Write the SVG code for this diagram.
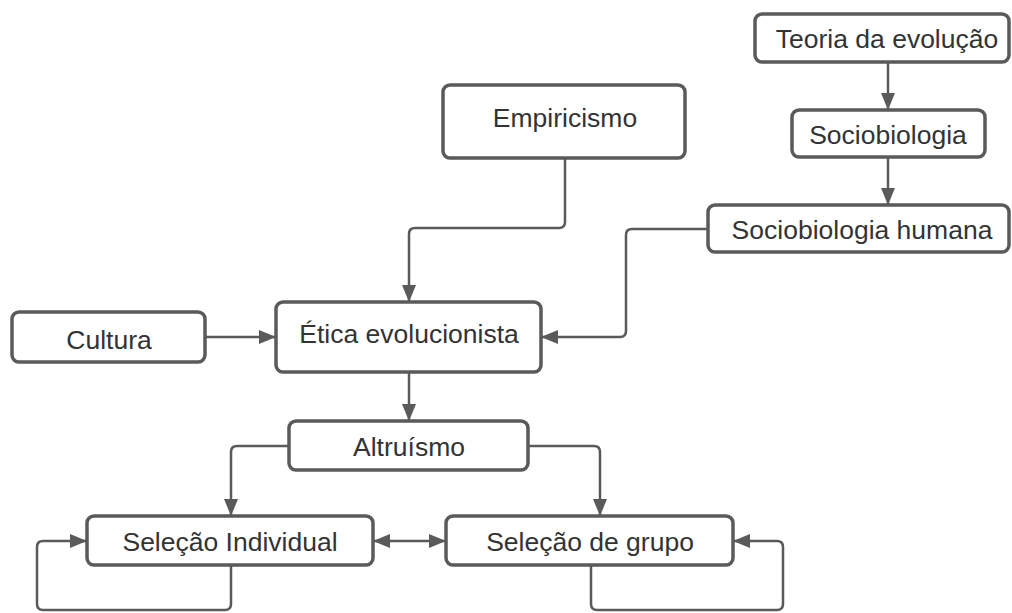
<svg xmlns="http://www.w3.org/2000/svg" width="1012" height="613" viewBox="0 0 1012 613">
<style>
.box{fill:#fff;stroke:#5a5a5a;stroke-width:3.5}
.lbl{font-family:"Liberation Sans",Arial,sans-serif;font-size:26.5px;fill:#333;text-anchor:middle;dominant-baseline:central}
.con{fill:none;stroke:#5a5a5a;stroke-width:2.5}
</style>
<defs>
<marker id="ah" markerUnits="userSpaceOnUse" markerWidth="20" markerHeight="16" refX="17" refY="7" orient="auto-start-reverse" viewBox="0 0 20 16">
<path d="M0,0 L17,7 L0,14 z" fill="#5a5a5a"/>
</marker>
</defs>
<rect width="1012" height="613" fill="#fff"/>
<g id="connectors">
<path class="con" d="M888,62 V110" marker-end="url(#ah)"/>
<path class="con" d="M888,157 V205" marker-end="url(#ah)"/>
<path class="con" d="M565,158 V222 q0,6 -6,6 H415 q-6,0 -6,6 V302" marker-end="url(#ah)"/>
<path class="con" d="M708,229 H632 q-6,0 -6,6 V331 q0,6 -6,6 H541" marker-end="url(#ah)"/>
<path class="con" d="M205,337 H276" marker-end="url(#ah)"/>
<path class="con" d="M409,372 V421" marker-end="url(#ah)"/>
<path class="con" d="M289,446 H237 q-6,0 -6,6 V516" marker-end="url(#ah)"/>
<path class="con" d="M528,446 H594 q6,0 6,6 V516" marker-end="url(#ah)"/>
<path class="con" d="M373,541 H446" marker-start="url(#ah)" marker-end="url(#ah)"/>
<path class="con" d="M231,565 V604 q0,6 -6,6 H43 q-6,0 -6,-6 V547 q0,-6 6,-6 H87" marker-end="url(#ah)"/>
<path class="con" d="M591,565 V604 q0,6 6,6 H777 q6,0 6,-6 V547 q0,-6 -6,-6 H733" marker-end="url(#ah)"/>
</g>
<g id="teoria"><rect class="box" x="755" y="14" width="254" height="48" rx="7"/><text class="lbl" x="887" y="39">Teoria da evolução</text></g>
<g id="sociobiologia"><rect class="box" x="792" y="110" width="193" height="47" rx="7"/><text class="lbl" x="888" y="135">Sociobiologia</text></g>
<g id="sociobiologia-humana"><rect class="box" x="708" y="205" width="301" height="47" rx="7"/><text class="lbl" x="862" y="230">Sociobiologia humana</text></g>
<g id="empiricismo"><rect class="box" x="443" y="85" width="242" height="73" rx="7"/><text class="lbl" x="565" y="118">Empiricismo</text></g>
<g id="cultura"><rect class="box" x="12" y="312" width="193" height="50" rx="7"/><text class="lbl" x="109" y="340">Cultura</text></g>
<g id="etica"><rect class="box" x="276" y="302" width="265" height="70" rx="7"/><text class="lbl" x="409" y="334">Ética evolucionista</text></g>
<g id="altruismo"><rect class="box" x="289" y="421" width="239" height="49" rx="7"/><text class="lbl" x="409" y="447">Altruísmo</text></g>
<g id="selecao-individual"><rect class="box" x="87" y="516" width="286" height="49" rx="7"/><text class="lbl" x="230" y="542">Seleção Individual</text></g>
<g id="selecao-grupo"><rect class="box" x="446" y="516" width="287" height="49" rx="7"/><text class="lbl" x="590" y="542">Seleção de grupo</text></g>
</svg>
